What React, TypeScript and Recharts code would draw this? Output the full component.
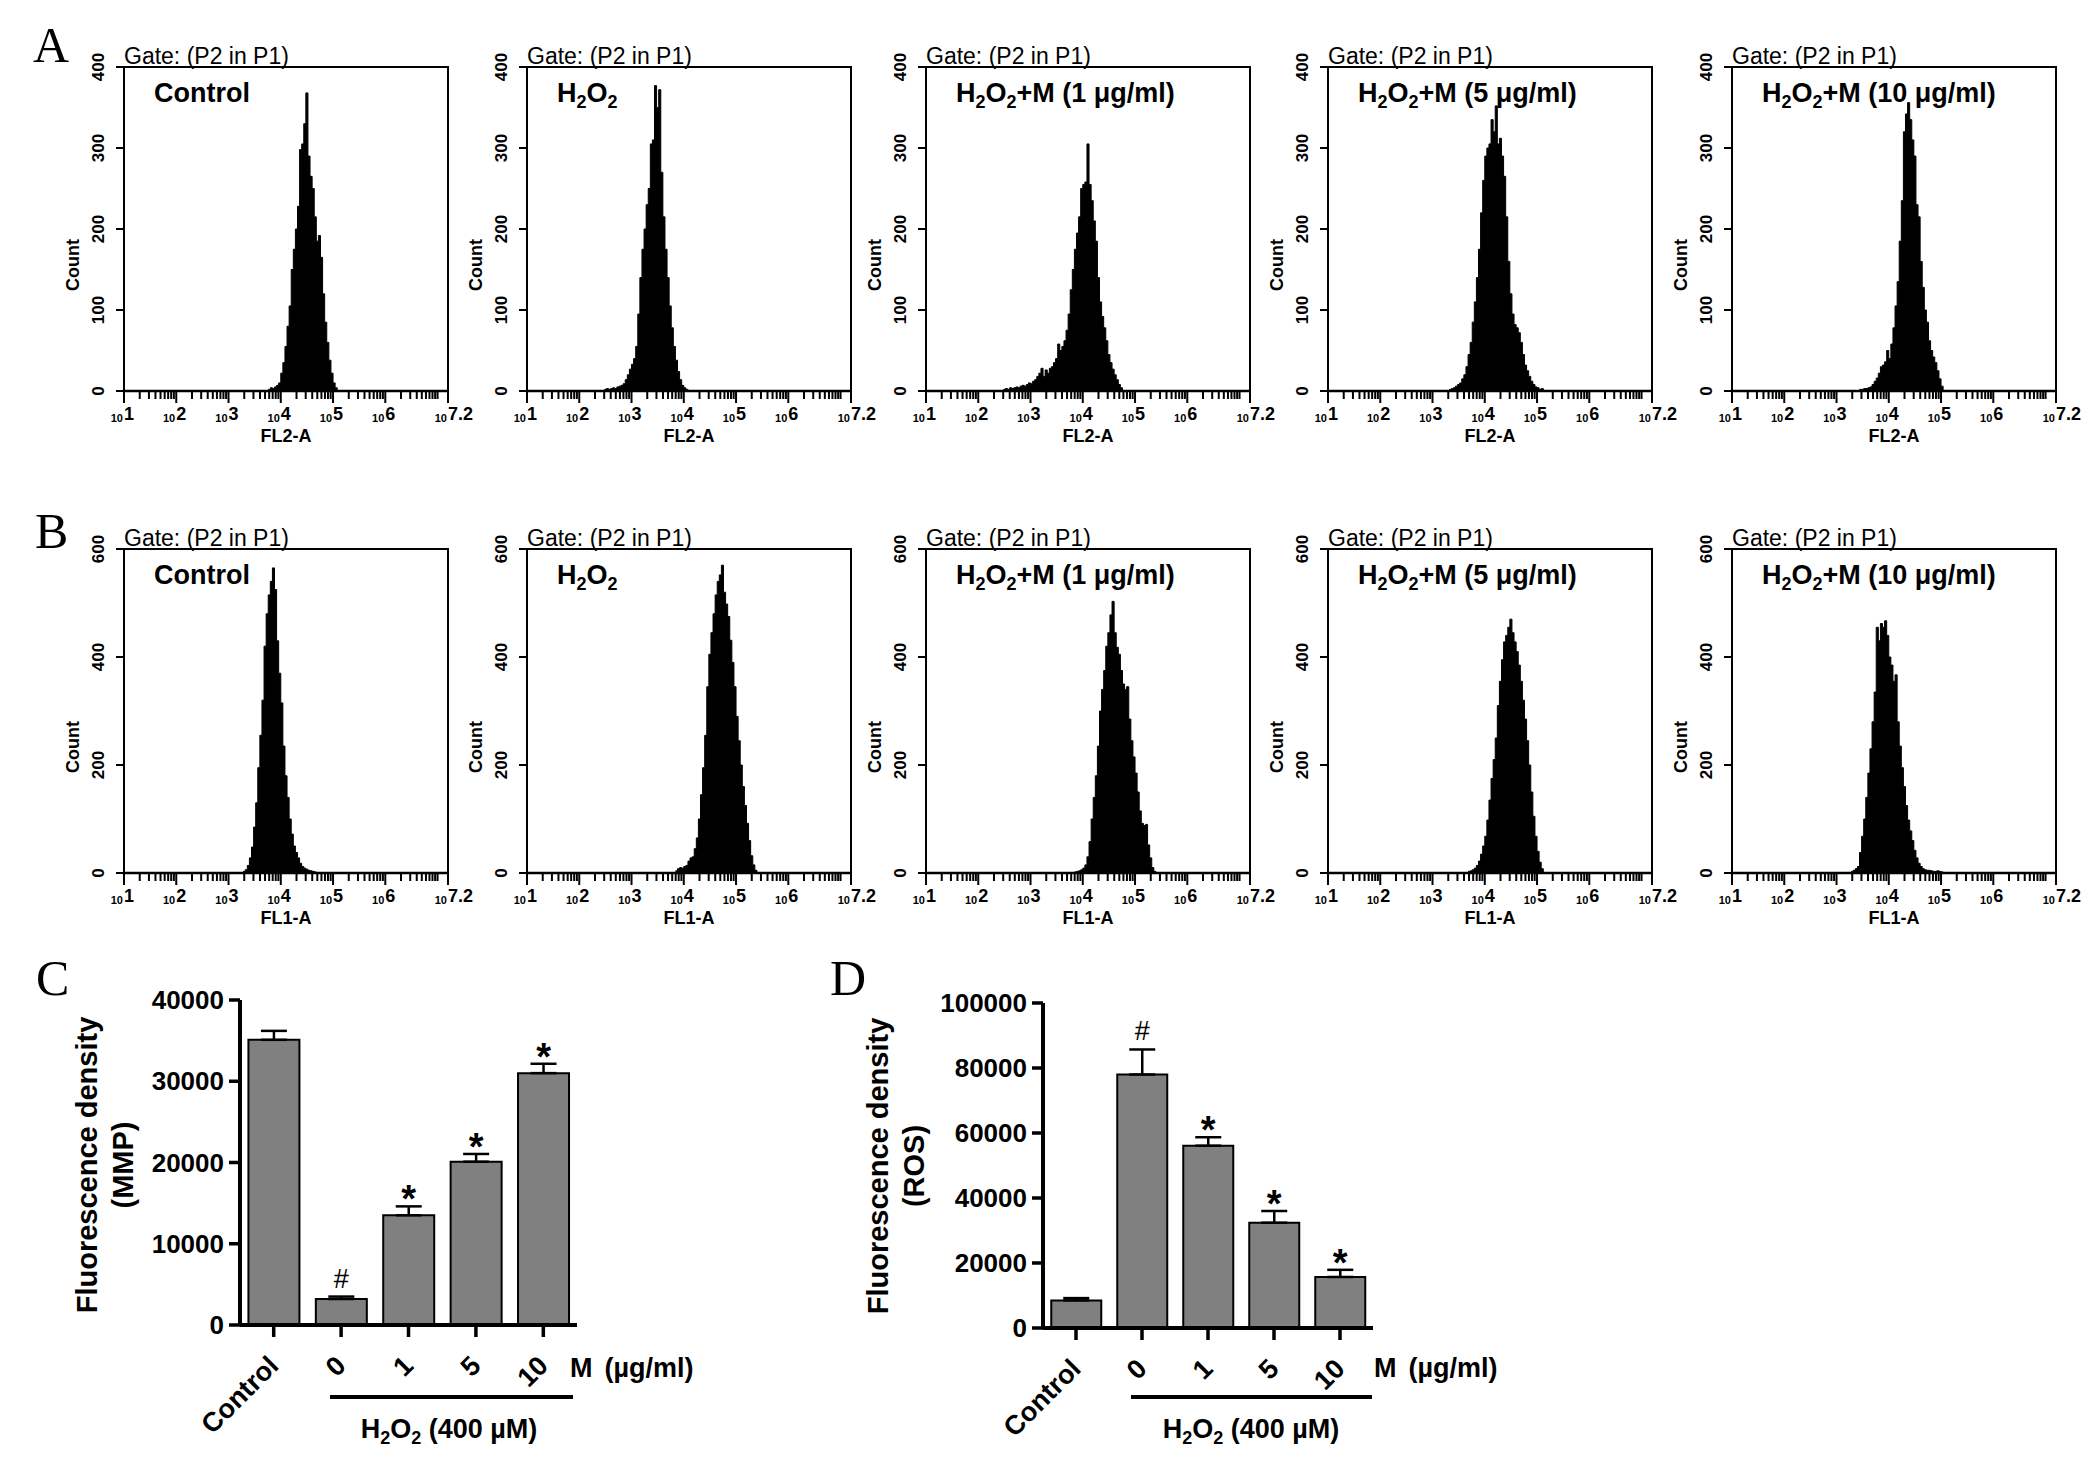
import React from 'react';
import { AreaChart, Area, BarChart, Bar, XAxis, YAxis, ErrorBar, LabelList, ReferenceArea } from 'recharts';

const FONT = '"Liberation Sans", Arial, Helvetica, sans-serif';
const SERIF = '"Liberation Serif", "Times New Roman", serif';

// histogram bins are 0.04 decade wide, each list starts at a log10 value
const BIN = 0.04;

// A: FL2-A (MMP) counts
const mmpStarts = [3.76, 2.48, 2.48, 3.32, 3.44];
const mmpControl = [2, 4, 3, 5, 7, 10, 22, 35, 55, 80, 105, 150, 175, 200, 228, 298, 305, 330, 368, 290, 265, 250, 215, 185, 192, 165, 120, 85, 60, 38, 22, 10, 4, 0];
const mmpH2o2 = [2, 3, 2, 3, 4, 3, 5, 6, 7, 9, 14, 20, 27, 33, 40, 55, 95, 140, 175, 200, 230, 250, 305, 310, 377, 350, 372, 270, 215, 175, 140, 105, 78, 55, 38, 24, 14, 7, 4, 2, 0];
const mmpM1 = [2, 3, 2, 4, 3, 4, 5, 4, 6, 7, 6, 8, 10, 9, 12, 14, 18, 22, 28, 18, 26, 22, 28, 30, 35, 40, 58, 50, 55, 62, 75, 95, 125, 150, 175, 195, 215, 250, 255, 258, 305, 255, 235, 210, 185, 140, 110, 92, 78, 62, 45, 35, 27, 20, 14, 8, 4, 0];
const mmpM5 = [2, 3, 4, 6, 8, 10, 15, 20, 30, 45, 60, 85, 110, 140, 175, 220, 260, 290, 300, 305, 335, 320, 352, 305, 312, 290, 265, 215, 160, 120, 95, 82, 78, 72, 60, 45, 32, 25, 18, 12, 8, 5, 4, 2, 3, 0];
const mmpM10 = [2, 2, 3, 3, 4, 5, 8, 12, 16, 22, 30, 32, 36, 50, 40, 58, 78, 105, 135, 185, 235, 320, 342, 356, 335, 310, 290, 230, 215, 160, 128, 100, 85, 62, 50, 42, 35, 25, 15, 6, 0];

// B: FL1-A (ROS) counts
const rosStarts = [3.28, 3.84, 3.84, 3.68, 3.28];
const rosControl = [3, 6, 14, 28, 48, 85, 130, 195, 255, 320, 420, 480, 515, 540, 565, 525, 430, 370, 315, 235, 180, 140, 100, 72, 50, 38, 28, 18, 12, 9, 7, 5, 4, 3, 2, 0];
const rosH2o2 = [4, 8, 10, 9, 12, 14, 22, 28, 30, 45, 65, 100, 145, 195, 255, 345, 405, 445, 480, 515, 540, 552, 570, 520, 498, 475, 431, 390, 345, 290, 245, 200, 160, 125, 92, 60, 32, 15, 5, 0];
const rosM1 = [2, 3, 4, 6, 9, 15, 30, 58, 100, 140, 180, 235, 300, 340, 375, 420, 445, 478, 503, 445, 418, 405, 375, 350, 340, 345, 285, 245, 215, 185, 150, 115, 92, 88, 90, 52, 28, 10, 3, 0];
const rosM5 = [3, 4, 6, 9, 14, 22, 35, 50, 68, 98, 135, 175, 210, 250, 310, 355, 395, 428, 440, 455, 470, 445, 428, 410, 385, 355, 320, 285, 245, 200, 150, 105, 68, 40, 20, 8, 0];
const rosM10 = [3, 5, 8, 12, 38, 68, 100, 140, 185, 230, 280, 335, 455, 430, 462, 455, 467, 440, 400, 385, 355, 367, 280, 235, 195, 160, 125, 98, 78, 60, 42, 28, 18, 12, 8, 6, 5, 5, 4, 3, 3, 4, 3, 2, 0];

const histTitles = ['Control', 'H2O2', 'H2O2+M (1 μg/ml)', 'H2O2+M (5 μg/ml)', 'H2O2+M (10 μg/ml)'];
const decadeTicks = [1, 2, 3, 4, 5, 6, 7.2];
const decadeLabels = ['1', '2', '3', '4', '5', '6', '7.2'];
const mmpCountTicks = [0, 100, 200, 300, 400];
const rosCountTicks = [0, 200, 400, 600];

// C / D: bar charts
const doseLabels = ['Control', '0', '1', '5', '10'];
const mmpMean = [35100, 3200, 13500, 20100, 31000];
const mmpErr = [1100, 300, 1100, 950, 1150];
const mmpMarks = ['', '#', '*', '*', '*'];
const rosMean = [8500, 78000, 56100, 32400, 15700];
const rosErr = [700, 7700, 2600, 3600, 2200];
const rosMarks = ['', '#', '*', '*', '*'];
const mmpTicks = [0, 10000, 20000, 30000, 40000];
const rosTicks = [0, 20000, 40000, 60000, 80000, 100000];

// layout
const BOX_LEFT = [124, 527, 926, 1328, 1732];
const TOP_A = 67;
const TOP_B = 549;
const BOX = 324;

const minorTicks: number[] = [];
for (let d = 1; d <= 6; d++) for (let k = 2; k <= 9; k++) minorTicks.push(d + Math.log10(k));
minorTicks.push(7);
const allTicks = [...decadeTicks, ...minorTicks].sort((a, b) => a - b);

const LogTick = (props: any) => {
  const { x, y, payload } = props;
  const i = decadeTicks.indexOf(payload.value);
  const major = i >= 0;
  return (
    <g>
      <line x1={x} y1={y} x2={x} y2={y + (major ? 12 : 8)} stroke="#000" strokeWidth={2} />
      {major && (
        <g fontFamily={FONT} fontWeight="bold" fill="#000">
          <text x={x - 1} y={y + 31} fontSize={11} textAnchor="end">10</text>
          <text x={x} y={y + 29} fontSize={18}>{decadeLabels[i]}</text>
        </g>
      )}
    </g>
  );
};

const CountTick = (props: any) => {
  const { x, y, payload } = props;
  const cx = x - 18;
  return (
    <text x={cx} y={y} transform={`rotate(-90 ${cx} ${y})`} textAnchor="middle" dominantBaseline="central"
      fontSize={17} fontWeight="bold" fontFamily={FONT} fill="#000">{payload.value}</text>
  );
};

function Histogram({ left, top, start, counts, yMax, yTicks }: any) {
  const data = counts.map((c: number, i: number) => ({ x: +(start + i * BIN).toFixed(2), count: c }));
  return (
    <div style={{ position: 'absolute', left: left - 124, top: top - 48 }}>
      <AreaChart width={490} height={440} data={data} margin={{ top: 48, right: 42, bottom: 20, left: 84 }}>
        <XAxis type="number" dataKey="x" domain={[1, 7.2]} allowDataOverflow ticks={allTicks} interval={0}
          tick={<LogTick />} tickLine={false} tickSize={0} tickMargin={0} height={48}
          axisLine={{ stroke: '#000', strokeWidth: 2.5 }} />
        <YAxis type="number" domain={[0, yMax]} allowDataOverflow ticks={yTicks} interval={0} width={40}
          tickSize={8} tickMargin={0} tick={<CountTick />} tickLine={{ stroke: '#000', strokeWidth: 2 }}
          axisLine={{ stroke: '#000', strokeWidth: 2 }} />
        <Area type="stepAfter" dataKey="count" stroke="#000" strokeWidth={1} fill="#000" fillOpacity={1}
          isAnimationActive={false} dot={false} activeDot={false} />
        <ReferenceArea x1={1} x2={7.2} y1={0} y2={yMax} fill="none" stroke="#000" strokeWidth={2} ifOverflow="visible" />
      </AreaChart>
    </div>
  );
}

const DoseTick = (props: any) => {
  const { x, y, payload } = props;
  return (
    <text x={x} y={y} transform={`rotate(-45 ${x} ${y})`} textAnchor="end" dominantBaseline="central"
      fontSize={27} fontWeight="bold" fontFamily={FONT} fill="#000">{payload.value}</text>
  );
};

const markContent = (means: number[], errs: number[]) => (props: any) => {
  const vb = props.viewBox && props.viewBox.width != null ? props.viewBox : props;
  const { x, y, width, height } = vb;
  const { index, value } = props;
  if (!value) return null;
  const capY = y - (height * errs[index]) / means[index];
  const star = value === '*';
  return (
    <text x={x + width / 2} y={star ? capY + 6 : capY - 9} textAnchor="middle" fontFamily={FONT}
      fontSize={star ? 38 : 27} fontWeight={star ? 'bold' : 'normal'} fill="#000">{value}</text>
  );
};

function DensityChart({ left, top, margin, means, errs, marks, yMax, yTicks }: any) {
  const data = doseLabels.map((name, i) => ({ name, value: means[i], err: [0, errs[i]], mark: marks[i] }));
  return (
    <div style={{ position: 'absolute', left, top }}>
      <BarChart width={740} height={520} data={data} margin={margin} barCategoryGap="12.5%">
        <XAxis dataKey="name" interval={0} height={60} tickSize={12} tickMargin={24} tick={<DoseTick />}
          tickLine={{ stroke: '#000', strokeWidth: 3.5 }} axisLine={{ stroke: '#000', strokeWidth: 4 }} />
        <YAxis type="number" domain={[0, yMax]} ticks={yTicks} interval={0} width={90} tickSize={11} tickMargin={5}
          tick={{ fontSize: 26, fontWeight: 'bold', fill: '#000', fontFamily: FONT }}
          tickLine={{ stroke: '#000', strokeWidth: 3.5 }} axisLine={{ stroke: '#000', strokeWidth: 4 }} />
        <Bar dataKey="value" fill="#808080" stroke="#000" strokeWidth={2} isAnimationActive={false}>
          <ErrorBar dataKey="err" width={13} stroke="#000" strokeWidth={2.5} />
          <LabelList dataKey="mark" content={markContent(means, errs)} />
        </Bar>
      </BarChart>
    </div>
  );
}

const Chem = ({ text, sub }: { text: string; sub: number }) => {
  if (!text.startsWith('H2O2')) return <>{text}</>;
  const rest = text.slice(4);
  return (
    <>
      H<tspan fontSize={sub} dy={6}>2</tspan><tspan dy={-6}>O</tspan><tspan fontSize={sub} dy={6}>2</tspan>
      <tspan dy={-6}>{rest}</tspan>
    </>
  );
};

function HistLabels({ top, xLabel }: { top: number; xLabel: string }) {
  return (
    <>
      {BOX_LEFT.map((bl, i) => (
        <g key={i} fill="#000" fontFamily={FONT}>
          <text x={bl} y={top - 3} fontSize={23}>Gate: (P2 in P1)</text>
          <text x={bl + 30} y={top + 35} fontSize={27} fontWeight="bold"><Chem text={histTitles[i]} sub={18} /></text>
          <text x={bl - 51} y={top + 198} transform={`rotate(-90 ${bl - 51} ${top + 198})`} textAnchor="middle"
            dominantBaseline="central" fontSize={18} fontWeight="bold">Count</text>
          <text x={bl + BOX / 2} y={top + BOX + 51} textAnchor="middle" fontSize={18} fontWeight="bold">{xLabel}</text>
        </g>
      ))}
    </>
  );
}

function YLabel({ x1, x2, cy, unit }: { x1: number; x2: number; cy: number; unit: string }) {
  return (
    <g fontFamily={FONT} fontWeight="bold" fontSize={29} fill="#000">
      <text x={x1} y={cy} transform={`rotate(-90 ${x1} ${cy})`} textAnchor="middle" dominantBaseline="central">Fluorescence density</text>
      <text x={x2} y={cy} transform={`rotate(-90 ${x2} ${cy})`} textAnchor="middle" dominantBaseline="central">{unit}</text>
    </g>
  );
}

function DoseNote({ mx, lineX1, lineX2, cx }: { mx: number; lineX1: number; lineX2: number; cx: number }) {
  return (
    <g fontFamily={FONT} fontWeight="bold" fontSize={27} fill="#000">
      <text x={mx} y={1377}>M<tspan dx={12}>(µg/ml)</tspan></text>
      <line x1={lineX1} x2={lineX2} y1={1397} y2={1397} stroke="#000" strokeWidth={4} />
      <text x={cx} y={1438} textAnchor="middle"><Chem text="H2O2 (400 µM)" sub={18} /></text>
    </g>
  );
}

export default function App() {
  const mmpSets = [mmpControl, mmpH2o2, mmpM1, mmpM5, mmpM10];
  const rosSets = [rosControl, rosH2o2, rosM1, rosM5, rosM10];
  return (
    <div style={{ position: 'absolute', left: 0, top: 0, width: 2084, height: 1460, background: '#fff', overflow: 'hidden' }}>
      {mmpSets.map((c, i) => (
        <Histogram key={'a' + i} left={BOX_LEFT[i]} top={TOP_A} start={mmpStarts[i]} counts={c} yMax={400} yTicks={mmpCountTicks} />
      ))}
      {rosSets.map((c, i) => (
        <Histogram key={'b' + i} left={BOX_LEFT[i]} top={TOP_B} start={rosStarts[i]} counts={c} yMax={600} yTicks={rosCountTicks} />
      ))}
      <DensityChart left={0} top={940} margin={{ top: 60, right: 163, bottom: 75, left: 150 }}
        means={mmpMean} errs={mmpErr} marks={mmpMarks} yMax={40000} yTicks={mmpTicks} />
      <DensityChart left={800} top={940} margin={{ top: 63, right: 167, bottom: 72, left: 153 }}
        means={rosMean} errs={rosErr} marks={rosMarks} yMax={100000} yTicks={rosTicks} />
      <svg width={2084} height={1460} style={{ position: 'absolute', left: 0, top: 0, pointerEvents: 'none' }}>
        <g fontFamily={SERIF} fontSize={50} fill="#000">
          <text x={33} y={62}>A</text>
          <text x={35} y={548}>B</text>
          <text x={36} y={995}>C</text>
          <text x={830} y={995}>D</text>
        </g>
        <HistLabels top={TOP_A} xLabel="FL2-A" />
        <HistLabels top={TOP_B} xLabel="FL1-A" />
        <YLabel x1={87} x2={123} cy={1165} unit="(MMP)" />
        <YLabel x1={878} x2={914} cy={1166} unit="(ROS)" />
        <DoseNote mx={570} lineX1={330} lineX2={573} cx={449} />
        <DoseNote mx={1374} lineX1={1131} lineX2={1372} cx={1251} />
      </svg>
    </div>
  );
}
